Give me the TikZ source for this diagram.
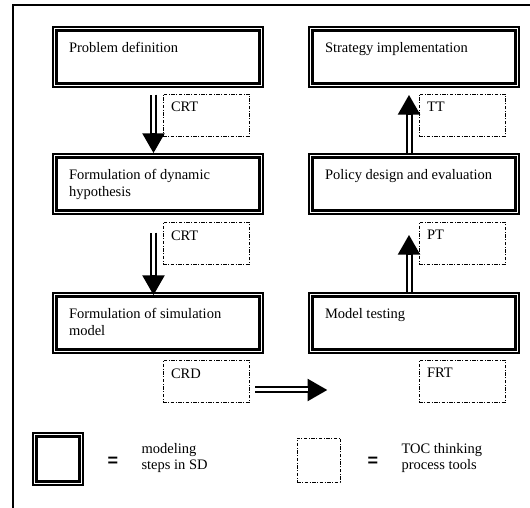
\documentclass[tikz,border=0pt]{standalone}
\usepackage{fontspec}
\setmainfont{Liberation Serif}
\newfontfamily\eqfont{Liberation Sans}
\usetikzlibrary{arrows.meta,positioning}

\newcommand{\steptext}[1]{\parbox[c][30pt][t]{178pt}{\raggedright #1}}
\newcommand{\tooltext}[1]{\parbox[c][26pt][t]{70pt}{\raggedright #1}}

\begin{document}
\begin{tikzpicture}[x=1pt, y=1pt,
                    font=\fontsize{14.5}{17}\selectfont,
                    stepbox/.style={draw, line width=1.3pt, inner xsep=16pt, inner ysep=15pt,
                                    minimum width=210pt, minimum height=60pt},
                    toolbox/.style={draw, line width=0.8pt,
                                    dash pattern=on 3.5pt off 1.5pt on 1pt off 1.5pt,
                                    inner xsep=8pt, inner ysep=8pt,
                                    minimum width=86pt, minimum height=42pt},
                    flow/.style={line width=7pt, shorten >=#1,
                                 -{Triangle[width=21pt, length=20pt]},
                                 postaction={draw=white, line width=3pt, -, shorten >=#1+20pt}},
                    flow/.default=0pt,
                    equals/.style={font=\eqfont\bfseries\fontsize{18}{18}\selectfont}]
    \useasboundingbox (0,0) rectangle (530,508);
    \draw[line width=1.5pt] (13,-1) -- (13,503) -- (531,503);

    % modeling steps
    \node[stepbox] (prob)   at (158,451) {\steptext{Problem definition}};
    \node[stepbox] (hyp)    at (158,324) {\steptext{Formulation of dynamic hypothesis}};
    \node[stepbox] (sim)    at (158,185) {\steptext{Formulation of simulation model}};
    \node[stepbox] (model)  at (414,185) {\steptext{Model testing}};
    \node[stepbox] (policy) at (414,324) {\steptext{Policy design and evaluation}};
    \node[stepbox] (strat)  at (414,451) {\steptext{Strategy implementation}};

    % thinking process tools
    \node[toolbox] (crt1) at (206,393)   {\tooltext{CRT}};
    \node[toolbox] (crt2) at (206,264.5) {\tooltext{CRT}};
    \node[toolbox] (crd)  at (206,126.5) {\tooltext{CRD}};
    \node[toolbox] (frt)  at (462,126.5) {\tooltext{FRT}};
    \node[toolbox] (pt)   at (462,264.5) {\tooltext{PT}};
    \node[toolbox] (tt)   at (462,393)   {\tooltext{TT}};

    % legend
    \node[stepbox, minimum width=50pt, minimum height=52pt, inner sep=0pt] (legstep) at (58,49) {};
    \node[equals] (eqstep) at (113,46) {=};
    \node[anchor=west, align=left, font=\fontsize{14.5}{16}\selectfont] (stepnote) at (138,49.5)
        {modeling\\steps in SD};
    \node[toolbox, minimum width=43pt, minimum height=44pt, inner sep=0pt] (legtool) at (318.5,48) {};
    \node[equals] (eqtool) at (373,46) {=};
    \node[anchor=west, align=left, font=\fontsize{14.5}{16}\selectfont] (toolnote) at (398,49.5)
        {TOC thinking\\process tools};

    % inner thick frames
    \foreach \n in {prob,hyp,sim,model,policy,strat,legstep}
        \draw[line width=3pt] ([shift={(4.5pt,4.5pt)}]\n.south west)
                              rectangle ([shift={(-4.5pt,-4.5pt)}]\n.north east);

    % Define transitions
    \draw[flow, shorten <=7pt] ([xshift=-4.5pt]prob.south) -- ([xshift=-4.5pt]hyp.north);
    \draw[flow=-3pt, shorten <=18pt] ([xshift=-4.5pt]hyp.south) -- ([xshift=-4.5pt]sim.north);
    \draw[flow=91pt, shorten <=6pt] ([yshift=-8.5pt]crd.east) -- ([yshift=-8.5pt]frt.west);
    \draw[flow=20pt] ([xshift=-5pt]model.north) -- ([xshift=-5pt]policy.south);
    \draw[flow=7pt] ([xshift=-5pt]policy.north) -- ([xshift=-5pt]strat.south);
\end{tikzpicture}
\end{document}
